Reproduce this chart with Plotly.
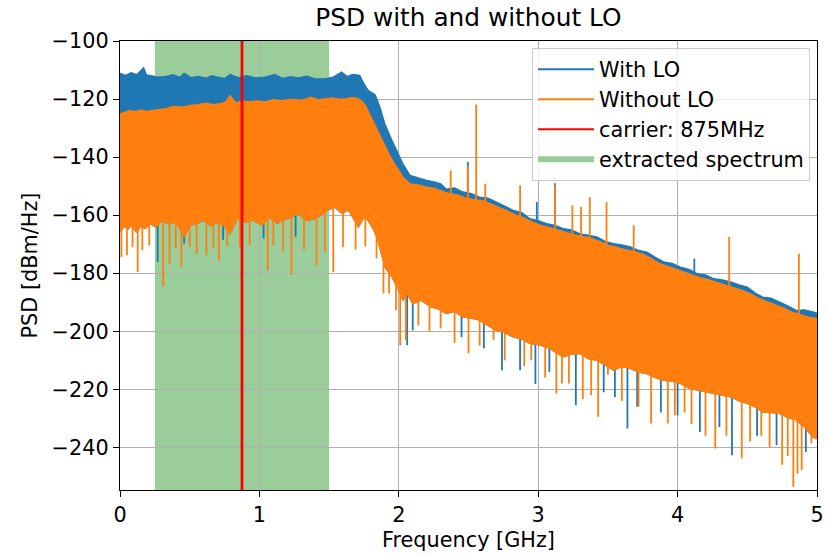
import numpy as np
import plotly.graph_objects as go

# ---------------- data ----------------
# upper envelope of "With LO" (GHz, dBm/Hz)
with_top_f = [0.00, 0.04, 0.08, 0.12, 0.17, 0.19, 0.22, 0.27, 0.33, 0.38, 0.43, 0.46, 0.51, 0.56,
              0.62, 0.66, 0.70, 0.75, 0.79, 0.85, 0.91, 0.97, 1.04, 1.11, 1.17, 1.22, 1.28, 1.34,
              1.40, 1.47, 1.53, 1.59, 1.63, 1.67, 1.72, 1.75, 1.78, 1.83, 1.865, 1.90, 1.94, 1.985,
              2.03, 2.08, 2.14, 2.20, 2.26, 2.30, 2.34, 2.40, 2.46, 2.52, 2.58, 2.64, 2.70, 2.76,
              2.82, 2.88, 2.94, 3.00, 3.06, 3.12, 3.18, 3.24, 3.30, 3.36, 3.42, 3.48, 3.54, 3.60,
              3.66, 3.72, 3.78, 3.84, 3.90, 3.96, 4.02, 4.08, 4.14, 4.20, 4.26, 4.32, 4.38, 4.44,
              4.50, 4.56, 4.61, 4.67, 4.73, 4.79, 4.85, 4.91, 4.97, 5.00]
with_top = [-111.1, -111.8, -110.9, -111.6, -109.2, -111.7, -111.9, -112.4, -112.2, -111.6, -112.5,
            -111.1, -112.6, -112.2, -112.8, -111.9, -112.4, -112.9, -111.5, -112.6, -111.9, -112.7,
            -112.4, -111.5, -112.9, -112.3, -112.7, -112.1, -113.0, -113.0, -112.4, -110.7, -112.2,
            -111.5, -111.8, -114.7, -117.0, -118.5, -122.8, -128.5, -133.1, -137.7, -142.3, -146.3,
            -147.2, -148.0, -148.6, -149.2, -151.0, -150.6, -152.0, -152.6, -153.8, -154.1, -155.5,
            -156.9, -158.3, -159.0, -161.2, -161.9, -162.9, -163.5, -164.6, -165.1, -166.4, -166.9,
            -167.5, -169.0, -169.8, -170.2, -170.9, -172.1, -172.7, -174.5, -176.1, -176.6, -177.9,
            -178.7, -180.1, -180.6, -181.9, -182.3, -183.0, -184.0, -184.8, -186.9, -188.2, -188.6,
            -189.9, -191.2, -192.8, -192.6, -193.3, -193.8]

# upper envelope of "Without LO"
without_top_f = [0.00, 0.04, 0.07, 0.11, 0.15, 0.19, 0.22, 0.27, 0.33, 0.38, 0.45, 0.51, 0.56, 0.62,
                 0.67, 0.72, 0.76, 0.79, 0.83, 0.88, 0.93, 0.98, 1.04, 1.10, 1.16, 1.22, 1.30, 1.37,
                 1.42, 1.47, 1.52, 1.57, 1.62, 1.67, 1.71, 1.74, 1.76, 1.79, 1.84, 1.89, 1.94, 1.985,
                 2.03, 2.08, 2.14, 2.20, 2.26, 2.30, 2.36, 2.42, 2.48, 2.54, 2.60, 2.66, 2.72, 2.78,
                 2.84, 2.90, 2.96, 3.02, 3.08, 3.14, 3.20, 3.26, 3.32, 3.38, 3.44, 3.50, 3.56, 3.62,
                 3.68, 3.74, 3.80, 3.86, 3.92, 3.98, 4.04, 4.10, 4.16, 4.22, 4.28, 4.34, 4.40, 4.46,
                 4.52, 4.58, 4.64, 4.70, 4.76, 4.82, 4.88, 4.94, 5.00]
without_top = [-125.1, -124.4, -123.9, -124.3, -123.7, -124.2, -123.9, -123.6, -123.3, -122.5, -122.8,
               -122.1, -121.9, -121.4, -121.9, -121.6, -120.9, -118.8, -121.3, -120.6, -121.0, -120.6,
               -121.0, -120.2, -120.5, -120.1, -120.4, -119.3, -120.3, -119.9, -119.6, -120.0, -119.9,
               -119.4, -119.9, -121.0, -122.2, -125.1, -130.0, -135.4, -140.0, -143.4, -146.9, -149.2,
               -149.6, -150.3, -150.8, -151.5, -152.6, -153.0, -154.0, -154.6, -155.0, -156.1, -157.3,
               -158.6, -160.0, -161.0, -162.4, -163.5, -164.3, -165.2, -166.0, -166.8, -167.3, -168.0,
               -169.0, -170.4, -171.0, -171.9, -172.5, -173.2, -174.6, -176.4, -177.5, -178.5, -179.4,
               -180.3, -181.5, -182.2, -183.1, -184.0, -184.8, -185.9, -187.0, -188.6, -189.8, -190.9,
               -192.0, -193.4, -194.3, -195.1, -195.6]

# lower edge of the dense body of both spectra
body_low_f = [0.00, 0.03, 0.06, 0.08, 0.12, 0.15, 0.18, 0.22, 0.26, 0.30, 0.35, 0.39, 0.43, 0.46,
              0.50, 0.55, 0.60, 0.65, 0.70, 0.75, 0.79, 0.84, 0.90, 0.95, 1.02, 1.07, 1.13, 1.16,
              1.22, 1.28, 1.34, 1.40, 1.45, 1.49, 1.54, 1.59, 1.64, 1.71, 1.75, 1.78, 1.82, 1.85,
              1.90, 1.95, 1.99, 2.03, 2.06, 2.10, 2.16, 2.23, 2.29, 2.34, 2.40, 2.46, 2.52, 2.58,
              2.64, 2.70, 2.76, 2.82, 2.88, 2.94, 3.00, 3.06, 3.12, 3.18, 3.24, 3.30, 3.36, 3.42,
              3.48, 3.54, 3.60, 3.66, 3.72, 3.78, 3.84, 3.90, 3.96, 4.02, 4.08, 4.14, 4.20, 4.26,
              4.32, 4.38, 4.44, 4.50, 4.56, 4.61, 4.67, 4.73, 4.79, 4.85, 4.91, 4.97, 5.00]
body_low = [-165.8, -163.9, -164.8, -163.5, -165.9, -163.7, -164.6, -163.0, -164.2, -161.8, -163.1,
            -162.4, -164.5, -167.5, -163.5, -162.9, -161.8, -163.6, -162.4, -163.9, -166.4, -161.2,
            -162.5, -161.6, -163.5, -160.7, -162.9, -161.8, -160.9, -159.5, -161.9, -161.2, -159.6,
            -158.3, -157.2, -159.4, -158.3, -164.1, -160.8, -161.8, -165.0, -168.7, -177.9, -181.3,
            -184.8, -189.3, -187.0, -190.5, -189.3, -191.6, -192.4, -193.9, -193.2, -195.1, -195.5,
            -196.2, -198.0, -199.7, -200.5, -202.0, -202.6, -204.2, -204.6, -205.4, -207.1, -208.8,
            -207.9, -207.7, -209.5, -210.0, -211.6, -213.4, -212.2, -212.8, -214.1, -214.6, -216.0,
            -216.9, -217.2, -218.0, -219.5, -220.3, -220.9, -221.5, -222.0, -222.6, -224.0, -224.9,
            -226.2, -227.8, -228.0, -228.3, -229.7, -230.6, -233.0, -236.4, -237.0]

# isolated downward spikes
without_dip_f = [0.01, 0.05, 0.09, 0.127, 0.16, 0.21, 0.31, 0.355, 0.40, 0.44, 0.50, 0.55, 0.62,
                 0.67, 0.71, 0.77, 0.86, 0.93, 1.06, 1.10, 1.17, 1.23, 1.32, 1.41, 1.47, 1.53, 1.60,
                 1.69, 1.76, 1.84, 1.89, 1.93, 1.98, 2.01, 2.05, 2.14, 2.22, 2.30, 2.40, 2.50, 2.58,
                 2.68, 2.76, 2.90, 2.95, 3.05, 3.13, 3.17, 3.22, 3.32, 3.38, 3.43, 3.50, 3.60, 3.72,
                 3.81, 3.93, 3.98, 4.05, 4.10, 4.20, 4.27, 4.35, 4.46, 4.52, 4.60, 4.66, 4.75, 4.79,
                 4.83, 4.86, 4.89, 4.96]
without_dip = [-174.4, -173.8, -171.0, -179.6, -172.0, -170.5, -184.5, -176.9, -171.5, -178.0,
               -170.8, -173.3, -173.8, -171.2, -175.6, -170.5, -171.0, -170.3, -179.0, -170.4,
               -172.4, -180.4, -171.8, -177.3, -172.9, -179.6, -171.0, -171.9, -170.8, -174.9,
               -187.0, -187.0, -192.8, -204.8, -203.1, -198.0, -200.0, -199.0, -204.0, -207.6,
               -205.0, -203.0, -210.0, -212.0, -210.0, -216.0, -221.5, -218.0, -218.0, -223.4,
               -222.0, -229.5, -215.0, -224.0, -226.0, -231.8, -231.8, -229.0, -228.0, -232.0,
               -236.0, -240.4, -236.0, -243.8, -238.0, -236.0, -240.0, -246.0, -243.0, -253.6,
               -249.0, -247.9, -238.6]
with_dip_f = [0.27, 0.46, 0.74, 1.03, 1.26, 2.06, 2.10, 2.45, 2.61, 2.74, 2.87, 2.98, 3.08, 3.27,
              3.47, 3.55, 3.64, 3.71, 3.88, 4.00, 4.16, 4.30, 4.39, 4.57, 4.71, 4.92]
with_dip = [-176.1, -169.8, -168.5, -168.0, -167.5, -204.8, -199.7, -202.0, -205.9, -213.4, -213.4,
            -218.2, -214.0, -225.5, -221.0, -222.7, -233.5, -226.0, -228.0, -229.0, -234.7, -233.0,
            -242.7, -236.0, -239.2, -241.6]

# isolated upward spikes
without_peak_f = [2.372, 2.495, 2.555, 2.62, 2.87, 3.12, 3.245, 3.307, 3.37, 3.49, 3.685, 4.37, 4.87]
without_peak = [-144.6, -143.0, -121.9, -149.2, -149.7, -149.7, -156.6, -157.2, -153.8, -155.5,
                -163.5, -167.5, -173.3]
with_peak_f = [2.495, 2.99, 3.12, 4.12]
with_peak = [-141.7, -155.5, -149.0, -175.0]

carrier_ghz = 0.875
extract_band = [0.25, 1.5]
x_ticks = [0, 1, 2, 3, 4, 5]
y_ticks = [-100, -120, -140, -160, -180, -200, -220, -240]
y_range = [-254.7, -100]

BLUE = "#1f77b4"
ORANGE = "#ff7f0e"
GREEN = "#9acd9a"
FONT = "DejaVu Sans"
FS = 20.8


def band(top_f, top, low_f, low):
    return list(top_f) + list(low_f)[::-1], list(top) + list(low)[::-1]


def spikes(fs, vals, ref_f, ref_v):
    xs, ys = [], []
    for f, v in zip(fs, vals):
        base = float(np.interp(f, ref_f, ref_v))
        xs += [f, f, None]
        ys += [base, v, None]
    return xs, ys


fig = go.Figure()

# With LO
bx, by = band(with_top_f, with_top, body_low_f, body_low)
fig.add_trace(go.Scatter(x=bx, y=by, fill="toself", fillcolor=BLUE, mode="lines",
                         line=dict(color=BLUE, width=1.2), showlegend=False, hoverinfo="skip"))
sx, sy = spikes(with_dip_f, with_dip, body_low_f, body_low)
fig.add_trace(go.Scatter(x=sx, y=sy, mode="lines", line=dict(color=BLUE, width=1.8),
                         showlegend=False, hoverinfo="skip"))
sx, sy = spikes(with_peak_f, with_peak, with_top_f, with_top)
fig.add_trace(go.Scatter(x=sx, y=sy, mode="lines", line=dict(color=BLUE, width=1.8),
                         showlegend=False, hoverinfo="skip"))

# Without LO
ox, oy = band(without_top_f, without_top, body_low_f, body_low)
fig.add_trace(go.Scatter(x=ox, y=oy, fill="toself", fillcolor=ORANGE, mode="lines",
                         line=dict(color=ORANGE, width=1.2), showlegend=False, hoverinfo="skip"))
sx, sy = spikes(without_dip_f, without_dip, body_low_f, body_low)
fig.add_trace(go.Scatter(x=sx, y=sy, mode="lines", line=dict(color=ORANGE, width=1.8),
                         showlegend=False, hoverinfo="skip"))
sx, sy = spikes(without_peak_f, without_peak, without_top_f, without_top)
fig.add_trace(go.Scatter(x=sx, y=sy, mode="lines", line=dict(color=ORANGE, width=1.8),
                         showlegend=False, hoverinfo="skip"))

# carrier line
fig.add_trace(go.Scatter(x=[carrier_ghz, carrier_ghz], y=y_range, mode="lines",
                         line=dict(color="#ff0000", width=2.8), showlegend=False, hoverinfo="skip"))

# legend handles
fig.add_trace(go.Scatter(x=[None], y=[None], mode="lines", name="With LO",
                         line=dict(color=BLUE, width=2), legendgroup="a", legendrank=1))
fig.add_trace(go.Scatter(x=[None], y=[None], mode="lines", name="Without LO",
                         line=dict(color=ORANGE, width=2), legendgroup="b", legendrank=2))
fig.add_trace(go.Scatter(x=[None], y=[None], mode="lines", name="carrier: 875MHz",
                         line=dict(color="#ff0000", width=2), legendgroup="c", legendrank=3))
fig.add_trace(go.Scatter(x=[None, None, None], y=[None, None, None], mode="none", fill="toself",
                         fillcolor=GREEN, name="extracted spectrum", legendgroup="d",
                         legendrank=4))

# extracted band (below the grid)
fig.add_shape(type="rect", xref="x", yref="paper", x0=extract_band[0], x1=extract_band[1],
              y0=0, y1=1, fillcolor=GREEN, line=dict(width=0), layer="below")

fig.update_layout(
    width=829, height=555,
    margin=dict(l=120, r=12, t=41, b=65, autoexpand=False),
    paper_bgcolor="white", plot_bgcolor="rgba(0,0,0,0)",
    font=dict(family=FONT, size=FS, color="black"),
    title=dict(text="PSD with and without LO", x=0.565, xanchor="center", y=0.968,
               yanchor="middle", font=dict(family=FONT, size=24.8, color="black")),
    showlegend=True,
    legend=dict(x=0.99, xanchor="right", y=0.984, yanchor="top",
                bgcolor="rgba(255,255,255,0.8)", bordercolor="#cccccc", borderwidth=1,
                font=dict(family=FONT, size=FS), itemwidth=56, tracegroupgap=0,
                traceorder="grouped"),
)
fig.update_xaxes(range=[0, 5], tickvals=x_ticks, ticktext=[str(t) for t in x_ticks],
                 automargin=False, tickfont=dict(size=FS),
                 showgrid=True, gridcolor="#b0b0b0", gridwidth=1, zeroline=False,
                 showline=True, linecolor="black", linewidth=1.2, mirror=True,
                 ticks="outside", ticklen=6, tickcolor="black",
                 title=dict(text="Frequency [GHz]", standoff=6, font=dict(size=FS)))
fig.update_yaxes(range=y_range, tickvals=y_ticks,
                 ticktext=["\u2212" + str(abs(t)) for t in y_ticks],
                 automargin=False, tickfont=dict(size=FS),
                 showgrid=True, gridcolor="#b0b0b0", gridwidth=1, zeroline=False,
                 showline=True, linecolor="black", linewidth=1.2, mirror=True,
                 ticks="outside", ticklen=6, tickcolor="black",
                 title=dict(text="PSD [dBm/Hz]", standoff=8, font=dict(size=FS)))

fig.write_html("out.html", config={"displayModeBar": False},
               post_script="document.body.style.margin='0px';document.body.style.padding='0px';")
